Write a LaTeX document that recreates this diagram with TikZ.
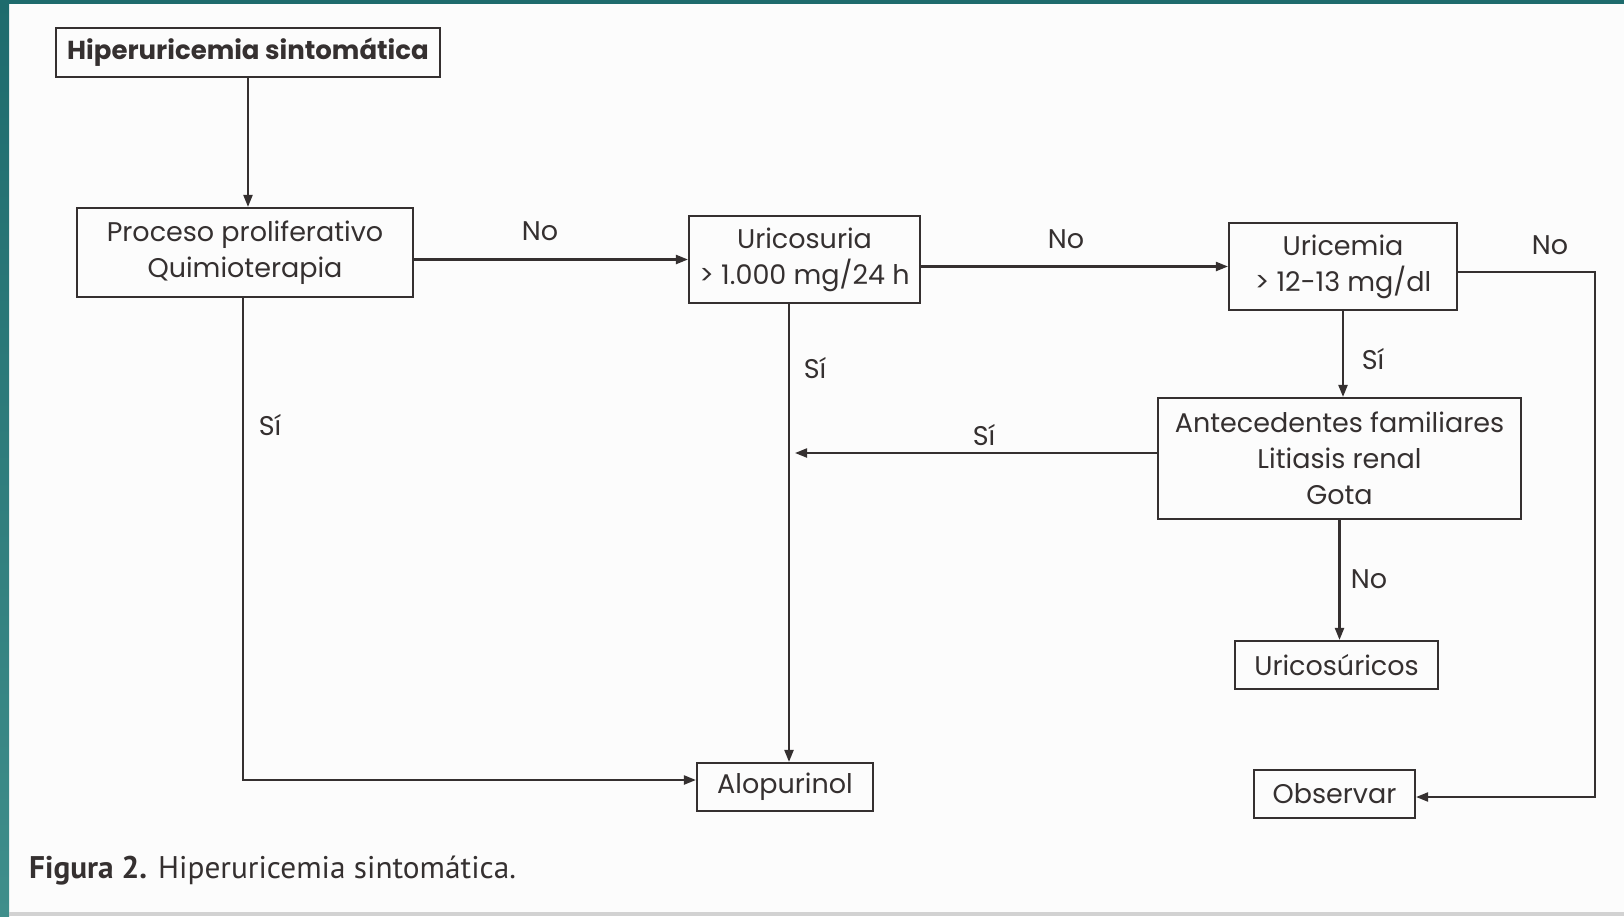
\documentclass[tikz,border=0pt]{standalone}
\usepackage{fontspec}
\setmainfont{Poppins}
\newfontfamily\capfont{PT Sans}
\usetikzlibrary{arrows.meta,calc}
\definecolor{tealA}{HTML}{1E6B6D}
\definecolor{tealB}{HTML}{3F8E8B}
\definecolor{ink}{HTML}{353030}
\definecolor{paper}{HTML}{FCFCFC}
\begin{document}
\begin{tikzpicture}[x=1pt,y=-1pt,
  box/.style={draw=ink, line width=2.1pt, text=ink, align=center, inner sep=0pt,
    font=\fontsize{27}{36}\selectfont},
  arr/.style={draw=ink, line width=2.1pt, -{Triangle[length=12pt,width=9pt]}},
  lab/.style={text=ink, inner sep=0pt, font=\fontsize{27}{36}\selectfont}]
\useasboundingbox (0,0) rectangle (1624,916);
\fill[paper] (0,0) rectangle (1624,916);
\shade[top color=tealA, bottom color=tealB] (0,0) rectangle (9,916);
\fill[tealA] (0,0) rectangle (1624,4);
\fill[gray!35] (9,912) rectangle (1624,916);

% nodes
\node[box, minimum width=384pt, minimum height=49pt, font=\fontsize{26}{34}\selectfont\bfseries] (hiper) at (248,52.5) {Hiperuricemia sintomática};
\node[box, minimum width=336pt, minimum height=89pt] (proc) at (245,252.5) {Proceso proliferativo\\Quimioterapia};
\node[box, minimum width=231pt, minimum height=87pt] (urics) at (804.5,259.5) {Uricosuria\\> 1.000 mg/24 h};
\node[box, minimum width=228pt, minimum height=87pt] (uricem) at (1343,266.5) {Uricemia\\> 12-13 mg/dl};
\node[box, minimum width=363pt, minimum height=121pt] (antec) at (1339.5,458.5) {Antecedentes familiares\\Litiasis renal\\Gota};
\node[box, minimum width=203pt, minimum height=48pt] (ucos) at (1336.5,665) {Uricosúricos};
\node[box, minimum width=176pt, minimum height=48pt] (alop) at (785,787) {Alopurinol};
\node[box, minimum width=161pt, minimum height=48pt] (obs) at (1334.5,794) {Observar};

% helper coordinates
\coordinate (v1) at (789,0);
\coordinate (j1) at (795,453);
\coordinate (c1) at (243,780);
\coordinate (r1) at (1595,272);
\coordinate (r2) at (1595,797);

% connectors
\draw[arr] (hiper.south) -- (hiper.south |- proc.north);
\draw[arr] (proc.east |- urics.west) -- (urics.west);
\draw[arr] (urics.east |- uricem.west) -- (uricem.west);
\draw[arr] (uricem.east |- r1) -- (r1) -- (r2) -- (obs.east |- r2);
\draw[arr] (uricem.south) -- (uricem.south |- antec.north);
\draw[arr] (antec.south) -- (antec.south |- ucos.north);
\draw[arr] (antec.west |- j1) -- (j1);
\draw[arr] (urics.south -| v1) -- (alop.north -| v1);
\draw[arr] (proc.south -| c1) -- (c1) -- (alop.west |- c1);

% labels
\node[lab] (l1) at (540,231) {No};
\node[lab] (l2) at (1066,239) {No};
\node[lab] (l3) at (1550,245) {No};
\node[lab] (l4) at (1373,359) {Sí};
\node[lab] (l5) at (1369,579) {No};
\node[lab] (l6) at (984,435) {Sí};
\node[lab] (l7) at (815,368) {Sí};
\node[lab] (l8) at (270,425) {Sí};

% caption
\node[anchor=west, inner sep=0pt, text=ink, font=\capfont\fontsize{31.3}{36}\selectfont] (cap) at (29,871) {\textbf{Figura 2.} Hiperuricemia sintomática.};
\end{tikzpicture}
\end{document}
